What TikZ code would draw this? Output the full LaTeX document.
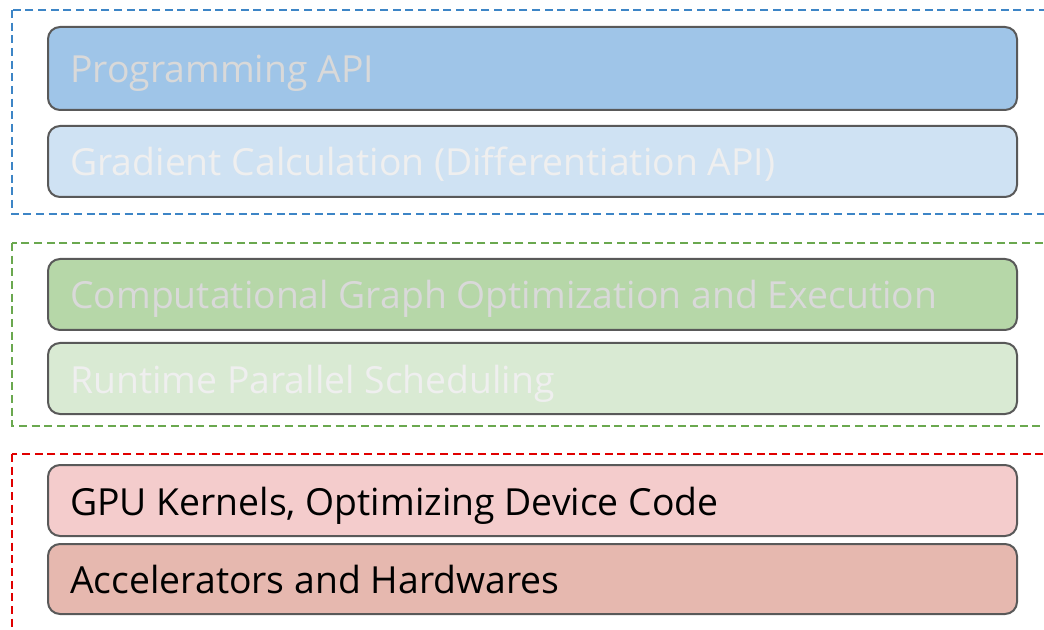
\documentclass[tikz,border=0pt]{standalone}
\usepackage{fontspec}
\setmainfont{Open Sans}
\usetikzlibrary{fit}
\definecolor{apiFill}{HTML}{9FC5E8}
\definecolor{gradFill}{HTML}{CFE2F3}
\definecolor{graphFill}{HTML}{B6D7A8}
\definecolor{rtFill}{HTML}{D9EAD3}
\definecolor{gpuFill}{HTML}{F4CCCC}
\definecolor{hwFill}{HTML}{E6B8AF}
\definecolor{edgeGray}{HTML}{595959}
\definecolor{paleText}{HTML}{D9D9D9}
\definecolor{palerText}{HTML}{EFEFEF}
\definecolor{blueDash}{HTML}{3D85C6}
\definecolor{greenDash}{HTML}{6AA84F}
\definecolor{redDash}{HTML}{E00000}
\tikzset{
  layerbox/.style={draw=edgeGray, line width=1.5pt, rounded corners=9pt, inner sep=0pt},
  grouprect/.style={line width=1.5pt, dash pattern=on 6pt off 3.5pt},
  lbl/.style={anchor=base west, inner sep=0pt, font=\fontsize{28}{33}\selectfont},
}
\begin{document}
\begin{tikzpicture}[x=0.75pt, y=-0.75pt]
\useasboundingbox (0,0) rectangle (1044,630);
\clip (0,0) rectangle (1044,630);
% group frames
\draw[grouprect, draw=blueDash] (12,10) rectangle (1060,214);
\draw[grouprect, draw=greenDash] (12,243) rectangle (1060,426);
\draw[grouprect, draw=redDash] (12,454) rectangle (1060,650);
% layer boxes
\node[layerbox, fill=apiFill, fit={(48,27) (1017,110)}] (api) {};
\node[layerbox, fill=gradFill, fit={(48,126) (1017,197)}] (grad) {};
\node[layerbox, fill=graphFill, fit={(48,259) (1017,330)}] (graph) {};
\node[layerbox, fill=rtFill, fit={(48,343) (1017,414)}] (rt) {};
\node[layerbox, fill=gpuFill, fit={(48,465) (1017,536)}] (gpu) {};
\node[layerbox, fill=hwFill, fit={(48,544) (1017,614)}] (hw) {};
% labels
\node[lbl, text=paleText] (apiT) at (70,83) {Programming API};
\node[lbl, text=palerText] (gradT) at (70,176) {Gradient Calculation (Differentiation API)};
\node[lbl, text=paleText] (graphT) at (70,309) {Computational Graph Optimization and Execution};
\node[lbl, text=palerText] (rtT) at (70,393) {Runtime Parallel Scheduling};
\node[lbl, text=black] (gpuT) at (70,515) {GPU Kernels, Optimizing Device Code};
\node[lbl, text=black] (hwT) at (70,593.5) {Accelerators and Hardwares};
\end{tikzpicture}
\end{document}
